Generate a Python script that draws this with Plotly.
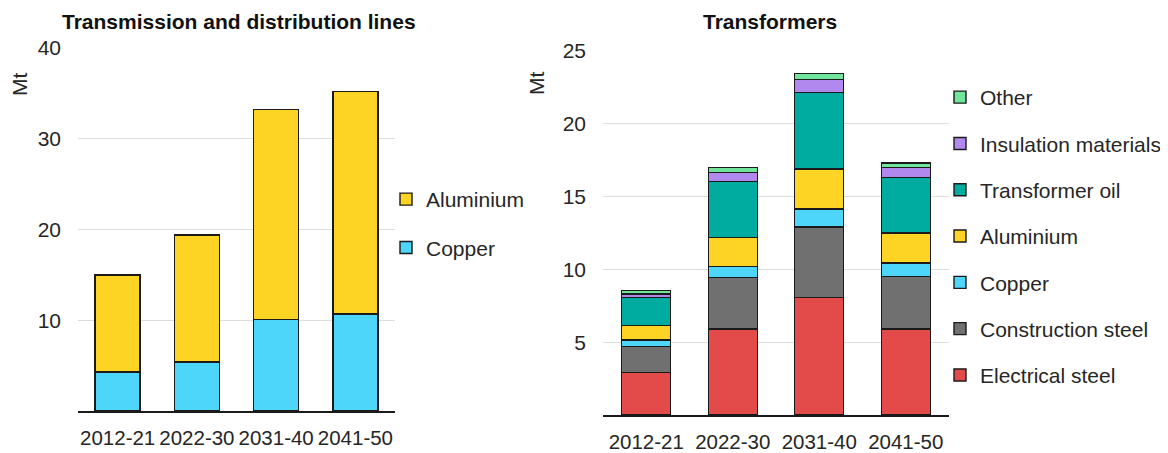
import plotly.graph_objects as go

W, H = 1168, 453

periods = ["2012-21", "2022-30", "2031-40", "2041-50"]

# Transmission and distribution lines (Mt)
lines_copper = [4.3, 5.4, 10.1, 10.7]
lines_aluminium = [10.7, 14.0, 23.1, 24.5]

# Transformers (Mt)
tr_electrical_steel = [2.9, 5.9, 8.05, 5.9]
tr_construction_steel = [1.8, 3.55, 4.85, 3.6]
tr_copper = [0.45, 0.75, 1.25, 0.95]
tr_aluminium = [1.0, 2.0, 2.75, 2.05]
tr_transformer_oil = [1.9, 3.85, 5.25, 3.8]
tr_insulation = [0.25, 0.6, 0.9, 0.7]
tr_other = [0.25, 0.35, 0.4, 0.3]

C = {
    "Electrical steel": "#E34B4B",
    "Construction steel": "#707070",
    "Copper": "#4DD5FA",
    "Aluminium": "#FDD424",
    "Transformer oil": "#00AB9F",
    "Insulation materials": "#B088EE",
    "Other": "#70E59B",
}

FONT = "Liberation Sans, Arial, sans-serif"
TXT = "#262626"

# page body has an 8px margin: convert screen pixel positions to paper fractions
OX, OY = 8, 8


def px(x):
    return (x - OX) / W


def py(y):
    return 1 - (y - OY) / H


fig = go.Figure()


def add(name, vals, xa, ya, leg, rank):
    fig.add_trace(go.Bar(
        x=periods, y=vals, name=name, xaxis=xa, yaxis=ya, legend=leg,
        legendgroup=leg + name, legendrank=rank,
        marker=dict(color=C[name], line=dict(color="#1a1a1a", width=1.4)),
        hoverinfo="skip",
    ))


add("Copper", lines_copper, "x", "y", "legend", 2)
add("Aluminium", lines_aluminium, "x", "y", "legend", 1)

add("Electrical steel", tr_electrical_steel, "x2", "y2", "legend2", 7)
add("Construction steel", tr_construction_steel, "x2", "y2", "legend2", 6)
add("Copper", tr_copper, "x2", "y2", "legend2", 5)
add("Aluminium", tr_aluminium, "x2", "y2", "legend2", 4)
add("Transformer oil", tr_transformer_oil, "x2", "y2", "legend2", 3)
add("Insulation materials", tr_insulation, "x2", "y2", "legend2", 2)
add("Other", tr_other, "x2", "y2", "legend2", 1)

xcommon = dict(showgrid=False, showline=True, linecolor="#1a1a1a", linewidth=1.5,
               ticks="", tickfont=dict(size=20.5, color=TXT, family=FONT),
               ticklabelstandoff=8, automargin=False, fixedrange=True)
ycommon = dict(showgrid=True, gridcolor="#DCDCDC", gridwidth=1.3, showline=False,
               zeroline=False, ticks="", tickfont=dict(size=21, color=TXT, family=FONT),
               ticklabelstandoff=16, automargin=False, fixedrange=True)

fig.update_layout(
    width=W, height=H,
    margin=dict(l=0, r=0, t=0, b=0),
    paper_bgcolor="white", plot_bgcolor="white",
    barmode="stack", bargap=0.433,
    font=dict(family=FONT, size=21, color=TXT),
    xaxis=dict(domain=[px(78), px(395)], anchor="y", **xcommon),
    yaxis=dict(domain=[py(411), py(48)], anchor="x", range=[0, 40],
               tickvals=[10, 20, 30, 40], **ycommon),
    xaxis2=dict(domain=[px(603), px(949)], anchor="y2", **xcommon),
    yaxis2=dict(domain=[py(415), py(51)], anchor="x2", range=[0, 25],
                tickvals=[5, 10, 15, 20, 25], **ycommon),
    legend=dict(x=px(386), xanchor="left", y=py(179), yanchor="top",
                traceorder="grouped", tracegroupgap=18,
                font=dict(size=21, color=TXT, family=FONT), bgcolor="rgba(0,0,0,0)"),
    legend2=dict(x=px(940), xanchor="left", y=py(77), yanchor="top",
                 traceorder="grouped", tracegroupgap=16,
                 font=dict(size=21, color=TXT, family=FONT), bgcolor="rgba(0,0,0,0)"),
    annotations=[
        dict(text="<b>Transmission and distribution lines</b>", x=px(239), y=py(21),
             xref="paper", yref="paper", xanchor="center", yanchor="middle",
             showarrow=False, font=dict(size=21, color="#111", family=FONT)),
        dict(text="<b>Transformers</b>", x=px(770), y=py(21),
             xref="paper", yref="paper", xanchor="center", yanchor="middle",
             showarrow=False, font=dict(size=21, color="#111", family=FONT)),
        dict(text="Mt", x=px(20), y=py(85), xref="paper", yref="paper",
             xanchor="center", yanchor="middle", textangle=-90, showarrow=False,
             font=dict(size=21, color=TXT, family=FONT)),
        dict(text="Mt", x=px(537), y=py(84), xref="paper", yref="paper",
             xanchor="center", yanchor="middle", textangle=-90, showarrow=False,
             font=dict(size=21, color=TXT, family=FONT)),
    ],
)

fig.write_html("out.html")
